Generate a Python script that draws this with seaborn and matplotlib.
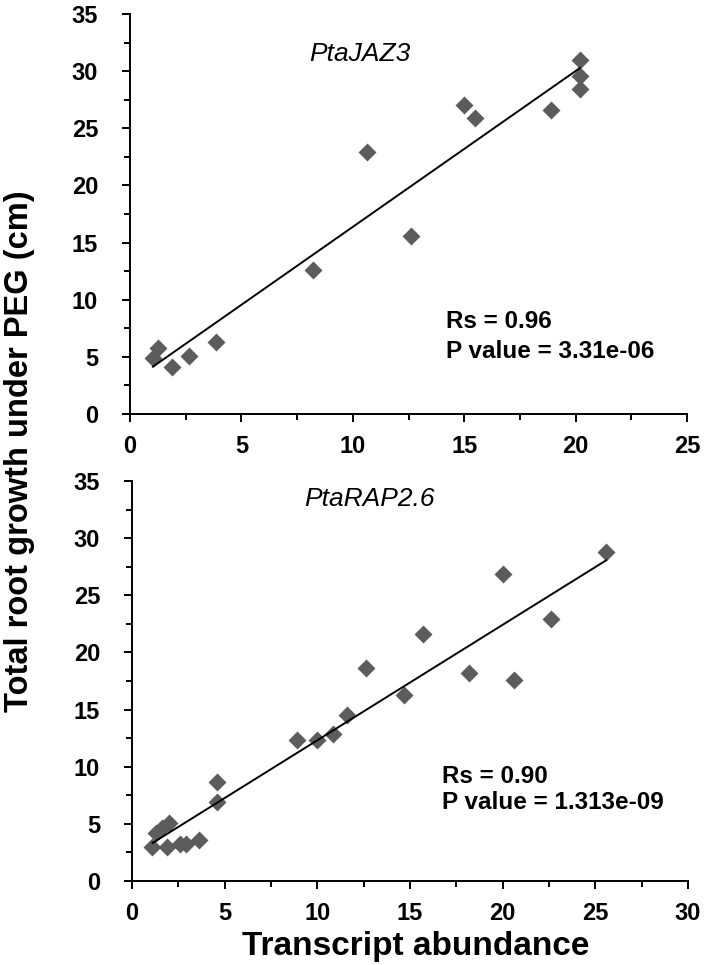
import numpy as np
import pandas as pd
import matplotlib
matplotlib.use('Agg')
import matplotlib.pyplot as plt
import seaborn as sns
from matplotlib.ticker import MultipleLocator

# ---- data ----
jaz3_x = [1.02, 1.27, 1.87, 2.66, 3.86, 8.23, 10.64, 12.6, 15.0, 15.5, 18.9, 20.2, 20.2, 20.2]
jaz3_y = [4.88, 5.76, 4.15, 5.11, 6.28, 12.62, 22.9, 15.6, 27.0, 25.9, 26.6, 31.0, 29.6, 28.4]

rap26_x = [1.1, 1.3, 1.6, 2.0, 1.9, 2.6, 2.9, 3.6, 4.6, 4.6, 8.9, 10.0, 10.85, 11.6,
           12.6, 14.7, 15.7, 18.2, 20.0, 20.6, 22.6, 25.6]
rap26_y = [3.0, 4.2, 4.6, 5.1, 3.0, 3.2, 3.2, 3.6, 8.7, 6.9, 12.3, 12.3, 12.9, 14.5,
           18.6, 16.3, 21.6, 18.2, 26.9, 17.6, 22.9, 28.8]

gene_names = ['PtaJAZ3', 'PtaRAP2.6']
rs_labels = ['Rs = 0.96', 'Rs = 0.90']
p_labels = ['P value = 3.31e-06', 'P value = 1.313e-09']
x_max = [25, 30]
y_max = 35
x_label = 'Transcript abundance'
y_label = 'Total root growth under PEG (cm)'

# ---- style ----
sns.set_style('ticks')
plt.rcParams['font.family'] = ['Liberation Sans', 'DejaVu Sans']

W, H = 706, 965
fig = plt.figure(figsize=(W / 100, H / 100), dpi=100)
ax1 = fig.add_axes([130 / W, 1 - 414 / H, (687 - 130) / W, 400 / H])
ax2 = fig.add_axes([132 / W, 1 - 881 / H, (688 - 132) / W, 400 / H])

panels = [
    (ax1, jaz3_x, jaz3_y, gene_names[0], rs_labels[0], p_labels[0], x_max[0],
     (10.3, 31.5), (14.2, 8.07, 5.48)),
    (ax2, rap26_x, rap26_y, gene_names[1], rs_labels[1], p_labels[1], x_max[1],
     (12.8, 33.4), (16.7, 9.18, 6.85)),
]

for ax, xs, ys, name, rs, pv, xm, tpos, spos in panels:
    df = pd.DataFrame({'x': xs, 'y': ys})
    sns.regplot(data=df, x='x', y='y', ax=ax, ci=None, marker='D',
                color='#5c5c5c',
                scatter_kws=dict(s=84, linewidths=0, alpha=1, zorder=2),
                line_kws=dict(color='black', lw=1.4, zorder=3))
    ax.set_xlim(0, xm)
    ax.set_ylim(0, y_max)
    ax.xaxis.set_major_locator(MultipleLocator(5))
    ax.xaxis.set_minor_locator(MultipleLocator(2.5))
    ax.yaxis.set_major_locator(MultipleLocator(5))
    ax.yaxis.set_minor_locator(MultipleLocator(2.5))
    ax.set_xlabel('')
    ax.set_ylabel('')
    for s in ['top', 'right']:
        ax.spines[s].set_visible(False)
    for s in ['left', 'bottom']:
        ax.spines[s].set_linewidth(1.4)
        ax.spines[s].set_color('black')
    ax.tick_params(axis='both', which='major', direction='out', length=6,
                   width=1.4, color='black', labelsize=17, labelcolor='black')
    ax.tick_params(axis='both', which='minor', direction='out', length=4.5,
                   width=1.4, color='black')
    ax.tick_params(axis='x', which='major', pad=9)
    ax.tick_params(axis='y', which='major', pad=17)
    for lab in ax.get_xticklabels() + ax.get_yticklabels():
        lab.set_fontweight('bold')
    ax.text(tpos[0], tpos[1], name, style='italic', fontsize=19,
            ha='center', va='center', color='black')
    ax.text(spos[0], spos[1], rs, fontsize=17.5, fontweight='bold',
            ha='left', va='center', color='black')
    ax.text(spos[0], spos[2], pv, fontsize=17.5, fontweight='bold',
            ha='left', va='center', color='black')

fig.text(416 / W, 1 - 947 / H, x_label, fontsize=24, fontweight='bold',
         ha='center', va='center', color='black')
fig.text(20 / W, 1 - 451 / H, y_label, fontsize=23.5, fontweight='bold',
         rotation=90, ha='center', va='center', color='black')

fig.savefig('out.png', dpi=100)
